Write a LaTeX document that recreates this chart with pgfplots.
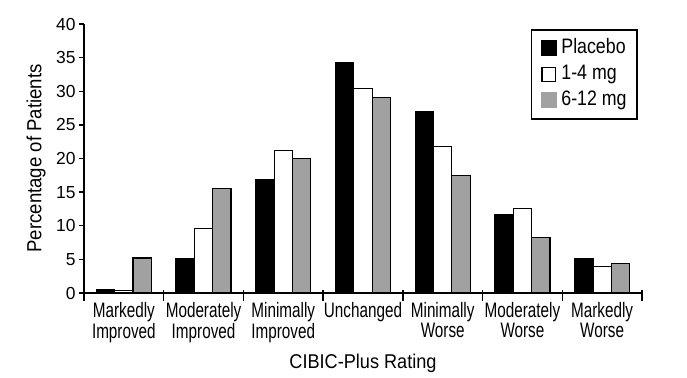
\documentclass[border=0pt]{standalone}
\usepackage{fontspec}
\setmainfont{Liberation Sans}
\newfontfamily\catfont{Liberation Sans}[FakeStretch=0.73]
\newfontfamily\legfont{Liberation Sans}[FakeStretch=0.85]
\newfontfamily\lblfont{Liberation Sans}[FakeStretch=0.91]
\usepackage{pgfplots}
\pgfplotsset{compat=1.18}
\definecolor{barg}{gray}{0.63}
\pgfplotstableread{
x placebo low high
0 0.45 0.4 5.2
1 5.1 9.6 15.5
2 16.8 21.2 20.0
3 34.2 30.4 29.1
4 27.0 21.8 17.5
5 11.6 12.6 8.3
6 5.1 3.9 4.4
}\datatable
\begin{document}
\begin{tikzpicture}
\useasboundingbox (0,0) rectangle (687bp,378bp);
\begin{axis}[
  at={(84bp,85bp)}, anchor=south west,
  scale only axis, width=558bp, height=269bp,
  xmin=-0.5, xmax=6.5, ymin=0, ymax=40,
  axis x line*=bottom, axis y line*=left,
  axis line style={line width=1.4bp, black},
  ytick={0,5,...,40},
  tick align=outside, major tick length=5bp,
  y tick style={line width=1.3bp, black},
  yticklabel style={font=\fontsize{17.5}{17.5}\selectfont, xshift=0bp},
  /pgf/number format/assume math mode=true,
  xtick={0,...,6},
  xticklabels={Markedly\\Improved, Moderately\\Improved, Minimally\\Improved, Unchanged, Minimally\\Worse, Moderately\\Worse, Markedly\\Worse},
  xticklabel style={font=\catfont\fontsize{21}{17.7}\selectfont, align=center, yshift=-1bp},
  x tick style={draw=none},
  extra x ticks={-0.5,0.5,...,6.5},
  extra x tick labels={},
  extra x tick style={major tick length=11bp, x tick style={draw=black, line width=1.3bp, yshift=3bp}},
  xlabel={CIBIC-Plus Rating},
  xlabel style={at={(axis description cs:0.5,-0.26)}, anchor=center, font=\lblfont\fontsize{20}{20}\selectfont},
  ylabel={Percentage of Patients},
  ylabel style={at={(axis description cs:-0.086,0.5)}, anchor=center, font=\lblfont\fontsize{20.5}{20.5}\selectfont},
  ybar, bar width=0.23,
  legend style={at={(axis description cs:0.801,0.981)}, anchor=north west, draw=black, line width=1.5bp,
    font=\legfont\fontsize{21}{21}\selectfont, inner xsep=9bp, inner ysep=7bp, row sep=3bp,
    nodes={inner sep=1.5bp, text height=15.5bp, text depth=4.5bp},
    /tikz/every odd column/.append style={column sep=3bp}},
  legend cell align=left,
]
\addplot[draw=black, fill=black, line width=1.2bp, bar shift=-0.23,
  legend image code/.code={\fill[black] (0bp,-7.5bp) rectangle (15bp,7.5bp);}]
  table[x=x, y=placebo] {\datatable};
\addplot[draw=black, fill=white, line width=1.2bp, bar shift=0,
  legend image code/.code={\draw[black, fill=white, line width=1.2bp] (0.6bp,-6.9bp) rectangle (14.4bp,6.9bp);}]
  table[x=x, y=low] {\datatable};
\addplot[draw=black, fill=barg, line width=1.2bp, bar shift=0.23,
  legend image code/.code={\fill[barg] (0bp,-7.5bp) rectangle (15bp,7.5bp);}]
  table[x=x, y=high] {\datatable};
\legend{Placebo, 1-4 mg, 6-12 mg}
\end{axis}
\end{tikzpicture}
\end{document}
